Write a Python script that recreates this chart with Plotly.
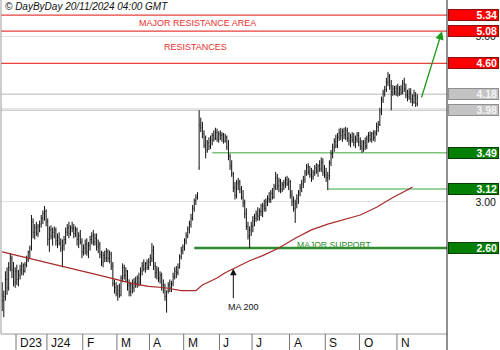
import math
import pandas as pd
import plotly.graph_objects as go

# Euronext sessions, 20 Nov 2023 - 19 Nov 2024
HOLIDAYS = ["2023-12-25", "2023-12-26", "2024-01-01", "2024-03-29", "2024-04-01", "2024-05-01"]
sessions = pd.bdate_range("2023-11-20", "2024-11-19", freq="C", holidays=HOLIDAYS)

# Daily OHLC (one row of values per month)
opens = [
    2.25, 2.21, 2.24, 2.36, 2.30, 2.45, 2.52, 2.43, 2.34,
    2.42, 2.36, 2.39, 2.43, 2.46, 2.42, 2.47, 2.51, 2.57, 2.60, 2.82, 2.73, 2.77, 2.72, 2.78, 2.80, 2.85, 2.89, 2.91,
    2.82, 2.67, 2.75, 2.70, 2.73, 2.75, 2.66, 2.69, 2.64, 2.60, 2.62, 2.67, 2.73, 2.77, 2.72, 2.77, 2.76, 2.72, 2.75, 2.67, 2.70, 2.65,
    2.57, 2.60, 2.63, 2.57, 2.62, 2.67, 2.70, 2.65, 2.68, 2.61, 2.63, 2.55, 2.49, 2.54, 2.52, 2.57, 2.52, 2.55, 2.46, 2.33, 2.30,
    2.26, 2.28, 2.25, 2.37, 2.45, 2.39, 2.42, 2.32, 2.27, 2.32, 2.30, 2.34, 2.33, 2.37, 2.34, 2.42, 2.46, 2.44, 2.48, 2.45,
    2.49, 2.52, 2.58, 2.46, 2.41, 2.43, 2.37, 2.39, 2.32, 2.30, 2.24, 2.28, 2.32, 2.30, 2.33, 2.38, 2.42, 2.41, 2.45, 2.53, 2.58,
    2.61, 2.66, 2.70, 2.76, 2.80, 2.85, 2.94, 3.01, 3.04, 3.33, 3.80, 3.77, 3.70, 3.57, 3.52, 3.60, 3.56, 3.63, 3.68, 3.65, 3.72, 3.64,
    3.70, 3.68, 3.69, 3.62, 3.66, 3.55, 3.45, 3.35, 3.27, 3.13, 3.06, 3.17, 3.19, 3.12, 3.04, 2.99, 2.89, 2.78, 2.70, 2.75,
    2.78, 2.83, 2.85, 2.89, 2.87, 2.91, 2.91, 2.96, 2.94, 3.00, 3.03, 3.02, 3.08, 3.04, 3.14, 3.23, 3.15, 3.20, 3.12, 3.16, 3.18, 3.21, 3.17,
    3.19, 3.06, 3.00, 2.94, 2.98, 3.03, 3.08, 3.13, 3.17, 3.21, 3.28, 3.34, 3.29, 3.26, 3.24, 3.28, 3.33, 3.30, 3.35, 3.32, 3.39, 3.29,
    3.26, 3.23, 3.25, 3.38, 3.48, 3.55, 3.61, 3.57, 3.66, 3.71, 3.68, 3.73, 3.69, 3.74, 3.65, 3.62, 3.66, 3.63, 3.60, 3.64, 3.68,
    3.61, 3.56, 3.54, 3.60, 3.56, 3.64, 3.68, 3.64, 3.70, 3.66, 3.71, 3.78, 3.81, 3.96, 4.11, 4.20, 4.24, 4.34, 4.42, 4.29, 4.21, 4.25, 4.21,
    4.26, 4.20, 4.24, 4.21, 4.32, 4.25, 4.17, 4.15, 4.20, 4.12, 4.08, 4.16, 4.06,
]
highs = [
    2.34, 2.28, 2.42, 2.45, 2.49, 2.56, 2.54, 2.49, 2.45,
    2.47, 2.43, 2.47, 2.49, 2.48, 2.49, 2.54, 2.58, 2.62, 2.88, 2.85, 2.80, 2.82, 2.80, 2.83, 2.88, 2.92, 2.96, 2.93,
    2.85, 2.78, 2.79, 2.77, 2.78, 2.77, 2.72, 2.73, 2.68, 2.67, 2.70, 2.77, 2.80, 2.82, 2.79, 2.82, 2.80, 2.78, 2.77, 2.73, 2.75, 2.68,
    2.63, 2.67, 2.68, 2.65, 2.70, 2.73, 2.75, 2.72, 2.72, 2.67, 2.65, 2.58, 2.57, 2.58, 2.60, 2.59, 2.58, 2.57, 2.49, 2.36, 2.34,
    2.32, 2.33, 2.39, 2.48, 2.47, 2.45, 2.43, 2.36, 2.34, 2.36, 2.37, 2.38, 2.39, 2.41, 2.45, 2.49, 2.51, 2.49, 2.51, 2.52,
    2.55, 2.64, 2.62, 2.49, 2.46, 2.45, 2.42, 2.41, 2.36, 2.33, 2.28, 2.34, 2.36, 2.35, 2.41, 2.45, 2.46, 2.48, 2.55, 2.61, 2.63,
    2.68, 2.73, 2.78, 2.83, 2.89, 2.97, 3.03, 3.07, 3.09, 3.98, 3.89, 3.84, 3.74, 3.68, 3.63, 3.66, 3.68, 3.71, 3.74, 3.77, 3.76, 3.73,
    3.74, 3.72, 3.71, 3.70, 3.68, 3.63, 3.48, 3.41, 3.29, 3.19, 3.21, 3.23, 3.21, 3.15, 3.11, 3.02, 2.94, 2.82, 2.78, 2.82,
    2.87, 2.89, 2.92, 2.95, 2.94, 2.98, 2.99, 3.02, 3.03, 3.06, 3.09, 3.11, 3.13, 3.17, 3.29, 3.27, 3.23, 3.22, 3.19, 3.21, 3.24, 3.25, 3.23,
    3.21, 3.11, 3.05, 3.02, 3.07, 3.11, 3.17, 3.21, 3.25, 3.31, 3.37, 3.38, 3.35, 3.33, 3.31, 3.36, 3.38, 3.37, 3.41, 3.44, 3.43, 3.36,
    3.33, 3.29, 3.41, 3.52, 3.59, 3.65, 3.69, 3.71, 3.76, 3.77, 3.76, 3.77, 3.78, 3.77, 3.72, 3.70, 3.72, 3.71, 3.68, 3.72, 3.72,
    3.66, 3.63, 3.63, 3.66, 3.68, 3.72, 3.73, 3.72, 3.74, 3.74, 3.83, 3.85, 4.01, 4.15, 4.24, 4.29, 4.40, 4.48, 4.45, 4.37, 4.30, 4.29, 4.30,
    4.32, 4.29, 4.30, 4.37, 4.40, 4.32, 4.24, 4.26, 4.26, 4.18, 4.24, 4.21, 4.18,
]
lows = [
    2.14, 2.10, 2.21, 2.25, 2.28, 2.42, 2.37, 2.31, 2.30,
    2.32, 2.31, 2.36, 2.39, 2.39, 2.41, 2.45, 2.49, 2.52, 2.58, 2.68, 2.67, 2.70, 2.69, 2.73, 2.77, 2.80, 2.83, 2.78,
    2.62, 2.57, 2.67, 2.62, 2.68, 2.62, 2.60, 2.62, 2.57, 2.45, 2.58, 2.63, 2.70, 2.68, 2.70, 2.73, 2.68, 2.69, 2.62, 2.60, 2.63, 2.52,
    2.54, 2.55, 2.54, 2.52, 2.58, 2.63, 2.62, 2.62, 2.58, 2.56, 2.52, 2.46, 2.45, 2.49, 2.49, 2.49, 2.48, 2.43, 2.31, 2.26, 2.24,
    2.21, 2.23, 2.24, 2.34, 2.36, 2.34, 2.28, 2.24, 2.24, 2.26, 2.27, 2.30, 2.30, 2.31, 2.32, 2.39, 2.42, 2.41, 2.43, 2.43,
    2.46, 2.49, 2.43, 2.37, 2.36, 2.34, 2.33, 2.28, 2.26, 2.21, 2.13, 2.26, 2.27, 2.27, 2.31, 2.36, 2.37, 2.39, 2.44, 2.51, 2.55,
    2.58, 2.63, 2.68, 2.72, 2.77, 2.83, 2.91, 2.97, 3.02, 3.31, 3.72, 3.65, 3.54, 3.43, 3.49, 3.52, 3.53, 3.57, 3.61, 3.63, 3.61, 3.60,
    3.63, 3.61, 3.59, 3.60, 3.52, 3.41, 3.31, 3.24, 3.09, 3.02, 3.03, 3.11, 3.08, 3.02, 2.95, 2.85, 2.75, 2.67, 2.60, 2.70,
    2.73, 2.78, 2.82, 2.83, 2.83, 2.87, 2.86, 2.91, 2.91, 2.96, 2.99, 2.99, 3.02, 3.03, 3.11, 3.11, 3.09, 3.08, 3.09, 3.11, 3.13, 3.15, 3.11,
    3.03, 2.96, 2.91, 2.81, 2.94, 2.98, 3.05, 3.09, 3.13, 3.18, 3.25, 3.26, 3.23, 3.19, 3.21, 3.25, 3.27, 3.24, 3.29, 3.29, 3.25, 3.23,
    3.19, 3.11, 3.21, 3.35, 3.43, 3.50, 3.54, 3.54, 3.62, 3.63, 3.61, 3.64, 3.63, 3.61, 3.57, 3.55, 3.60, 3.56, 3.54, 3.60, 3.56,
    3.52, 3.49, 3.50, 3.52, 3.53, 3.60, 3.61, 3.60, 3.62, 3.61, 3.68, 3.72, 3.79, 3.92, 4.07, 4.15, 4.21, 4.29, 4.24, 3.98, 4.16, 4.17, 4.16,
    4.15, 4.16, 4.17, 4.18, 4.21, 4.13, 4.09, 4.11, 4.07, 4.03, 4.06, 4.02, 4.03,
]
closes = [
    2.21, 2.24, 2.36, 2.30, 2.45, 2.52, 2.43, 2.34, 2.42,
    2.36, 2.39, 2.43, 2.46, 2.42, 2.47, 2.51, 2.57, 2.60, 2.82, 2.73, 2.77, 2.72, 2.78, 2.80, 2.85, 2.89, 2.91, 2.82,
    2.67, 2.75, 2.70, 2.73, 2.75, 2.66, 2.69, 2.64, 2.60, 2.62, 2.67, 2.73, 2.77, 2.72, 2.77, 2.76, 2.72, 2.75, 2.67, 2.70, 2.65, 2.57,
    2.60, 2.63, 2.57, 2.62, 2.67, 2.70, 2.65, 2.68, 2.61, 2.63, 2.55, 2.49, 2.54, 2.52, 2.57, 2.52, 2.55, 2.46, 2.33, 2.30, 2.26,
    2.28, 2.25, 2.37, 2.45, 2.39, 2.42, 2.32, 2.27, 2.32, 2.30, 2.34, 2.33, 2.37, 2.34, 2.42, 2.46, 2.44, 2.48, 2.45, 2.49,
    2.52, 2.58, 2.46, 2.41, 2.43, 2.37, 2.39, 2.32, 2.30, 2.24, 2.28, 2.32, 2.30, 2.33, 2.38, 2.42, 2.41, 2.45, 2.53, 2.58, 2.61,
    2.66, 2.70, 2.76, 2.80, 2.85, 2.94, 3.01, 3.04, 3.06, 3.80, 3.77, 3.70, 3.57, 3.52, 3.60, 3.56, 3.63, 3.68, 3.65, 3.72, 3.64, 3.70,
    3.68, 3.69, 3.62, 3.66, 3.55, 3.45, 3.35, 3.27, 3.13, 3.06, 3.17, 3.19, 3.12, 3.04, 2.99, 2.89, 2.78, 2.70, 2.75, 2.78,
    2.83, 2.85, 2.89, 2.87, 2.91, 2.91, 2.96, 2.94, 3.00, 3.03, 3.02, 3.08, 3.04, 3.14, 3.23, 3.15, 3.20, 3.12, 3.16, 3.18, 3.21, 3.17, 3.19,
    3.06, 3.00, 2.94, 2.98, 3.03, 3.08, 3.13, 3.17, 3.21, 3.28, 3.34, 3.29, 3.26, 3.24, 3.28, 3.33, 3.30, 3.35, 3.32, 3.39, 3.29, 3.26,
    3.23, 3.25, 3.38, 3.48, 3.55, 3.61, 3.57, 3.66, 3.71, 3.68, 3.73, 3.69, 3.74, 3.65, 3.62, 3.66, 3.63, 3.60, 3.64, 3.68, 3.61,
    3.56, 3.54, 3.60, 3.56, 3.64, 3.68, 3.64, 3.70, 3.66, 3.71, 3.78, 3.81, 3.96, 4.11, 4.20, 4.24, 4.34, 4.42, 4.29, 4.21, 4.25, 4.21, 4.26,
    4.20, 4.24, 4.21, 4.32, 4.25, 4.17, 4.15, 4.20, 4.12, 4.08, 4.16, 4.06, 4.13,
]

# 200-session moving average
ma200_dates = [
    "2023-11-20", "2023-12-04", "2023-12-18", "2024-01-04", "2024-01-18", "2024-02-01",
    "2024-02-15", "2024-02-29", "2024-03-14", "2024-03-28", "2024-04-15", "2024-04-29",
    "2024-05-07", "2024-05-13", "2024-05-17", "2024-05-23", "2024-05-30", "2024-06-06",
    "2024-06-13", "2024-06-20", "2024-06-27", "2024-07-09", "2024-07-23", "2024-08-06",
    "2024-08-20", "2024-09-03", "2024-09-17", "2024-10-01", "2024-10-15", "2024-10-29",
    "2024-11-12", "2024-11-14",
]
ma200_values = [
    2.57, 2.54, 2.51, 2.48, 2.45, 2.42,
    2.39, 2.36, 2.33, 2.31, 2.30, 2.28,
    2.28, 2.28, 2.32, 2.34, 2.37, 2.41,
    2.44, 2.47, 2.50, 2.54, 2.60, 2.68,
    2.75, 2.80, 2.84, 2.88, 2.95, 3.04,
    3.12, 3.14,
]

month_labels = ["D23", "J24", "F", "M", "A", "M", "J", "J", "A", "S", "O", "N"]

resistance_levels = [5.34, 5.08, 4.60]
pivot_levels = [4.18, 3.98]
support_levels = [3.49, 3.12, 2.60]
support_starts = ["2024-05-27", "2024-09-03", "2024-05-10"]
target_level = 5.08
ma_pointer_date = "2024-06-13"

FONT = "Liberation Sans, Arial, sans-serif"
X_RANGE = [-0.713, 273.25]
Y_RANGE = [math.log10(1.994), math.log10(5.594)]
BOTTOM = -16 / 334  # bottom of the month strip, in paper units

pos = {d: i for i, d in enumerate(sessions)}
xs = list(range(len(sessions)))


def lg(v):
    return math.log10(v)


fig = go.Figure()
fig.add_trace(go.Ohlc(
    x=xs, open=opens, high=highs, low=lows, close=closes,
    increasing=dict(line=dict(color="#111111", width=1)),
    decreasing=dict(line=dict(color="#111111", width=1)),
    tickwidth=0.3, showlegend=False, hoverinfo="skip",
))
fig.add_trace(go.Scatter(
    x=[pos[pd.Timestamp(d)] for d in ma200_dates], y=ma200_values,
    mode="lines", line=dict(color="#a82a2a", width=1.2),
    showlegend=False, hoverinfo="skip",
))

shapes = []
annotations = []

# horizontal levels
for lv in resistance_levels:
    shapes.append(dict(type="line", xref="paper", x0=0, x1=1, yref="y", y0=lv, y1=lv,
                       line=dict(color="#e8413e", width=1.2), layer="below"))
for lv in pivot_levels:
    shapes.append(dict(type="line", xref="paper", x0=0, x1=1, yref="y", y0=lv, y1=lv,
                       line=dict(color="#cfcfcf", width=1.5), layer="below"))
for lv, start in zip(support_levels, support_starts):
    major = lv == min(support_levels)
    shapes.append(dict(type="line", xref="x", x0=pos[pd.Timestamp(start)], x1=X_RANGE[1],
                       yref="y", y0=lv, y1=lv,
                       line=dict(color="#2e8b2e" if major else "#7cc47c", width=2.5 if major else 1.5),
                       layer="below"))

# frame
shapes.append(dict(type="line", xref="paper", x0=0, x1=0, yref="paper", y0=0, y1=1,
                   line=dict(color="#9a9a9a", width=1)))
shapes.append(dict(type="line", xref="paper", x0=0, x1=1, yref="paper", y0=0, y1=0,
                   line=dict(color="#9a9a9a", width=1)))
shapes.append(dict(type="line", xref="paper", x0=1, x1=1, yref="paper", y0=BOTTOM, y1=1,
                   line=dict(color="#222222", width=1)))

# month strip
month_starts = [i for i in range(1, len(sessions)) if sessions[i].month != sessions[i - 1].month]
for i, lab in zip(month_starts, month_labels):
    shapes.append(dict(type="line", xref="x", x0=i - 0.5, x1=i - 0.5, yref="paper", y0=0, y1=BOTTOM,
                       line=dict(color="#777777", width=1)))
    annotations.append(dict(xref="x", x=i - 0.5, yref="paper", y=0, xanchor="left", yanchor="top",
                            xshift=2, yshift=0, text=lab, showarrow=False,
                            font=dict(family=FONT, size=12, color="#111111")))

# right-hand scale values
for v in (3.00, 5.00):
    annotations.append(dict(xref="paper", x=1, yref="y", y=lg(v), xanchor="left", yanchor="middle",
                            width=47, align="right", text=f"{v:.2f}", showarrow=False,
                            font=dict(family=FONT, size=10.5, color="#111111")))


def level_box(v, bg, border, fg):
    return dict(xref="paper", x=1, yref="y", y=lg(v), xanchor="left", yanchor="middle",
                xshift=1, width=47, height=8, align="right", valign="middle",
                text=f"<b>{v:.2f}</b>", showarrow=False, bgcolor=bg, bordercolor=border,
                borderwidth=1, borderpad=1, font=dict(family=FONT, size=10.5, color=fg))


for v in resistance_levels:
    annotations.append(level_box(v, "#ff0000", "#8a1010", "#ffffff"))
for v in pivot_levels:
    annotations.append(level_box(v, "#c3c3c3", "#8f8f8f", "#f4f4f4"))
for v in support_levels:
    annotations.append(level_box(v, "#038003", "#0b3d0b", "#ffffff"))

# zone labels
mid_major = math.sqrt(resistance_levels[0] * resistance_levels[1])
mid_res = math.sqrt(resistance_levels[1] * resistance_levels[2])
annotations.append(dict(xref="x", x=120, yref="y", y=lg(mid_major), text="MAJOR RESISTANCE AREA",
                        showarrow=False, font=dict(family=FONT, size=9, color="#e8302c")))
annotations.append(dict(xref="x", x=119, yref="y", y=lg(mid_res), text="RESISTANCES",
                        showarrow=False, font=dict(family=FONT, size=9, color="#e8302c")))
annotations.append(dict(xref="x", x=204, yref="y", y=lg(support_levels[2]), yanchor="bottom", yshift=-4,
                        text="MAJOR SUPPORT", showarrow=False,
                        font=dict(family=FONT, size=8.6, color="#2e8b2e")))

# MA 200 pointer
ma_idx = ma200_dates.index(ma_pointer_date)
annotations.append(dict(xref="x", x=pos[pd.Timestamp(ma_pointer_date)], yref="y", y=lg(ma200_values[ma_idx]),
                        ax=0, ay=31, text="", showarrow=True, arrowhead=2, arrowsize=1.3,
                        arrowwidth=1, arrowcolor="#111111"))
annotations.append(dict(xref="x", x=148, yref="y", y=lg(2.17), text="MA 200", showarrow=False,
                        font=dict(family=FONT, size=9, color="#111111")))

# upside target arrow
annotations.append(dict(xref="x", x=270.2, yref="y", y=lg(target_level),
                        axref="x", ax=257.3, ayref="y", ay=lg(closes[-1] - 0.01),
                        text="", showarrow=True, arrowhead=2, arrowsize=1.3, arrowwidth=1.3,
                        arrowcolor="#1e9a1e"))

# header
annotations.append(dict(xref="paper", x=0, yref="paper", y=1, xanchor="left", yanchor="top",
                        xshift=2, yshift=1, text="<i>© DayByDay 20/11/2024 04:00 GMT</i>", showarrow=False,
                        font=dict(family=FONT, size=10, color="#111111")))

fig.update_layout(
    width=500, height=350,
    margin=dict(l=1, r=53, t=0, b=16),
    paper_bgcolor="white", plot_bgcolor="white",
    shapes=shapes, annotations=annotations,
    xaxis=dict(range=X_RANGE, showgrid=False, zeroline=False, showticklabels=False,
               ticks="", showline=False, rangeslider=dict(visible=False), fixedrange=True),
    yaxis=dict(type="log", range=Y_RANGE, side="right", tickvals=[3, 4, 5],
               showticklabels=False, ticks="", gridcolor="#e3e3e3", gridwidth=1,
               zeroline=False, showline=False, fixedrange=True),
    showlegend=False,
)

fig.write_html("out.html")
